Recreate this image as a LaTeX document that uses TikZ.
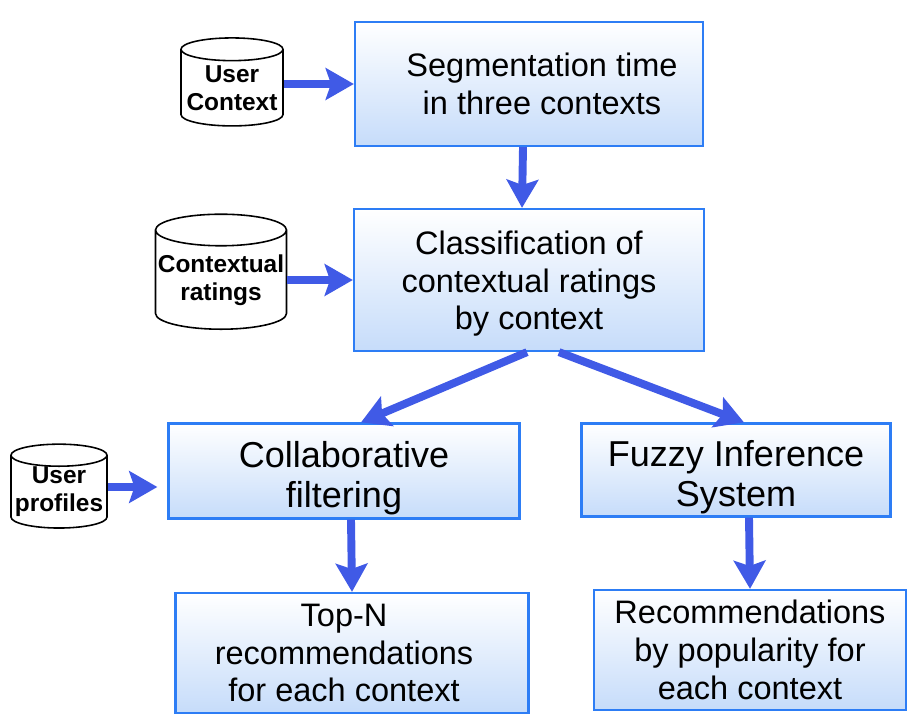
\documentclass[tikz,border=0pt]{standalone}
\usepackage{fontspec}
\setmainfont{Liberation Sans}
\usetikzlibrary{shapes.geometric,arrows.meta}
\definecolor{boxline}{RGB}{45,125,245}
\definecolor{boxfill}{RGB}{198,220,250}
\definecolor{arrowblue}{RGB}{64,90,230}
\begin{document}
\begin{tikzpicture}[auto,
  box/.style={draw=boxline, line width=1.3pt, top color=white, bottom color=boxfill,
    align=center, font=\fontsize{18.5}{21.5}\selectfont, inner sep=0pt},
  bigtext/.style={font=\fontsize{20.5}{22.7}\selectfont},
  db/.style={draw, line width=0.9pt, cylinder, shape border rotate=90, aspect=0.25,
    fill=white, align=center, font=\bfseries\fontsize{13.9}{16}\selectfont, inner sep=0pt},
  flow/.style={draw=arrowblue, line width=4.5pt, -{Stealth[length=16pt, width=18pt, inset=3pt]}}]
\useasboundingbox (0,0) rectangle (18.4,-14.44);
% main boxes
\node (seg)[box, minimum width=6.96cm, minimum height=2.48cm] at (10.58,-1.68) {\hspace*{0.52cm}Segmentation time\\\hspace*{0.52cm}in three contexts};
\node (class)[box, minimum width=7.0cm, minimum height=2.84cm] [below of = seg, node distance=3.92cm] {\rule{0pt}{0.62cm}Classification of\\contextual ratings\\by context};
\node (coll)[box, bigtext, minimum width=7.02cm, minimum height=1.9cm] [below of = class, node distance=3.82cm, xshift=-3.7cm] {\rule{0pt}{0.8cm}Collaborative\\filtering};
\node (fis)[box, bigtext, minimum width=6.18cm, minimum height=1.86cm] [below of = class, node distance=3.8cm, xshift=4.14cm] {\rule{0pt}{0.8cm}Fuzzy Inference\\System};
\node (topn)[box, minimum width=7.06cm, minimum height=2.4cm] [below of = coll, node distance=3.64cm, xshift=0.16cm] {Top-N\hspace*{0.32cm}\mbox{}\\recommendations\hspace*{0.32cm}\mbox{}\\for each context\hspace*{0.32cm}\mbox{}};
\node (recs)[box, minimum width=6.24cm, minimum height=2.4cm] [below of = fis, node distance=3.6cm, xshift=0.28cm] {Recommendations\\by popularity for\\each context};
% data stores
\node (uctx)[db, minimum width=2.04cm, minimum height=1.76cm] [left of = seg, node distance=5.94cm, yshift=-0.08cm] {User\\Context};
\node (ctxr)[db, minimum width=2.62cm, minimum height=2.3cm] [left of = class, node distance=6.16cm] {Contextual\\ratings};
\node (prof)[db, minimum width=1.92cm, minimum height=1.64cm] [left of = coll, node distance=5.7cm, yshift=-0.42cm] {User\\profiles};
% arrows
\draw[flow] (uctx.east |- seg.west) -- (seg.west);
\draw[flow] ([xshift=-0.12cm]seg.south) -- ([xshift=-0.14cm]class.north);
\draw[flow] (ctxr.east |- class.west) -- (class.west);
\draw[flow] ([xshift=-0.04cm]class.south) -- ([xshift=0.34cm]coll.north);
\draw[flow] ([xshift=0.6cm]class.south) -- ([xshift=0.16cm]fis.north);
\draw[flow, shorten >=0.2cm] ([yshift=0.1cm]prof.east) -- ([yshift=0.1cm]prof.east -| coll.west);
\draw[flow] ([xshift=0.14cm]coll.south) -- (topn.north);
\draw[flow] ([xshift=0.26cm]fis.south) -- (recs.north);
\end{tikzpicture}
\end{document}
